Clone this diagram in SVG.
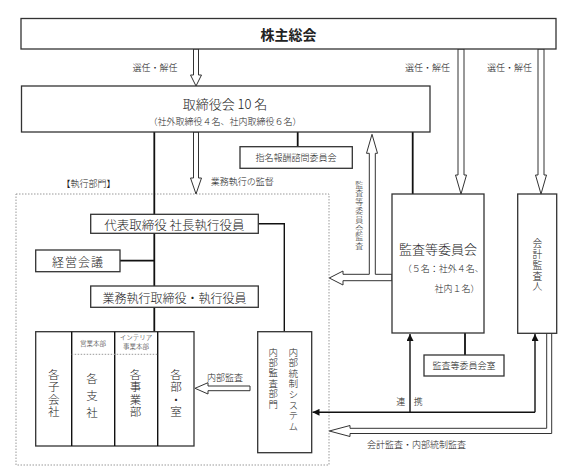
<svg xmlns="http://www.w3.org/2000/svg" width="563" height="472" viewBox="0 0 563 472">
<style>
text { font-family: "Noto Sans CJK JP", "Noto Sans", sans-serif; fill: #222; font-weight: 300; }
.box { fill: #fff; stroke: #333; stroke-width: 1.3; }
.ln { stroke: #111; stroke-width: 1.8; fill: none; }
.thin { stroke: #111; stroke-width: 1.4; fill: none; }
.hol { fill: #fff; stroke: #333; stroke-width: 1; }
.dot { fill: none; stroke: #999; stroke-width: 1; stroke-dasharray: 1.5 1.5; }
.c { text-anchor: middle; dominant-baseline: central; }
.l { text-anchor: start; dominant-baseline: central; }
.r { text-anchor: end; dominant-baseline: central; }
.v { writing-mode: vertical-rl; text-anchor: start; }
.b { font-weight: bold; font-size: 14px; }
.s7 { font-size: 6.5px; }
.s9 { font-size: 9px; }
.s12 { font-size: 12px; }
.s13 { font-size: 13px; }
</style>
<defs>
<marker id="ah" viewBox="0 0 10 10" refX="10" refY="5" markerUnits="userSpaceOnUse" markerWidth="7" markerHeight="7" orient="auto">
<path d="M0,0 L10,5 L0,10 z" fill="#111"/>
</marker>
</defs>

<!-- dotted execution area -->
<rect class="dot" x="16" y="194" width="313" height="271"/>
<text class="c s9" x="88.5" y="183">【執行部門】</text>

<g id="connectors">
<path class="ln" d="M154.3,132 V332"/>
<path class="ln" d="M120,260.7 H154.3"/>
<path class="thin" d="M258.3,223.8 H284.3 V331.7"/>
<path class="ln" d="M297.7,132 V146.7"/>
<path class="ln" d="M412.7,132 V194"/>
<path class="ln" d="M465,333 V355"/>
<path class="thin" d="M535,412.3 H312.5" marker-end="url(#ah)"/>
<path class="thin" d="M535,412.3 V334" marker-end="url(#ah)"/>
<path class="thin" d="M410,412.3 V334" marker-end="url(#ah)"/>
<path class="hol" d="M193.5,49 V75 H190.5 L196,86 L201.5,75 H198.5 V49 z"/>
<path class="hol" d="M193.5,132 V178 H190.5 L196,194 L201.5,178 H198.5 V132 z"/>
<path class="hol" d="M458,49 V175 H455.5 L461,194 L466.5,175 H464 V49 z"/>
<path class="hol" d="M538,49 V175 H535.5 L541,194 L546.5,175 H544 V49 z"/>
<path class="hol" d="M392,280.7 H343 V285 L329.3,278 L343,271 V274.3 H369.3 V153.3 H366.5 L372,134.3 L377.5,153.3 H375.3 V274.3 H392 z"/>
<path class="hol" d="M250,386 H208 V382.7 L195,388.3 L208,394 V390.7 H250 z"/>
<path class="hol" d="M546.7,333 V428.3 H350 V425.5 L329.3,431 L350,436.5 V433.5 H551.7 V333 z"/>
<text class="c s9" x="155" y="67">選任・解任</text>
<text class="c s9" x="427.5" y="67">選任・解任</text>
<text class="c s9" x="509.5" y="67">選任・解任</text>
<text class="l s9" x="210.7" y="181">業務執行の監督</text>
<text class="v" x="359.3" y="180.5" font-size="8" letter-spacing="0.8">監査等委員会監査</text>
<text class="c s9" x="225" y="377">内部監査</text>
<text class="c s9" x="400.7" y="401.7">連</text>
<text class="c s9" x="418.3" y="401.7">携</text>
<text class="l s9" x="367" y="444">会計監査・内部統制監査</text>
</g>

<g id="shareholders">
<rect class="box" x="21" y="18.5" width="535" height="30.5"/>
<text class="c b" x="288.5" y="34">株主総会</text>
</g>

<g id="board">
<rect class="box" x="21.5" y="86" width="408.5" height="46"/>
<text class="c s13" x="225" y="103">取締役会 10 名</text>
<text class="c s9" x="225" y="121.5">（社外取締役４名、社内取締役６名）</text>
</g>

<g id="nomination">
<rect class="box" x="240" y="146.7" width="112.3" height="21.6"/>
<text class="c s9" x="296" y="157.5">指名報酬諮問委員会</text>
</g>

<g id="president">
<rect class="box" x="90.7" y="214.3" width="167.6" height="19"/>
<text class="c" x="174.5" y="224" font-size="12.5">代表取締役 社長執行役員</text>
</g>

<g id="management-meeting">
<rect class="box" x="35.7" y="250" width="84.3" height="21.7"/>
<text class="c s12" x="78" y="261" letter-spacing="1">経営会議</text>
</g>

<g id="executives">
<rect class="box" x="90.7" y="286" width="167.6" height="21.3"/>
<text class="c s12" x="174.5" y="297">業務執行取締役・執行役員</text>
</g>

<g id="units">
<rect class="box" x="35.7" y="331.7" width="158.3" height="114.3"/>
<path class="thin" d="M71.7,331.7 V446 M114.7,331.7 V446 M157.7,331.7 V446"/>
<path class="dot" d="M71.7,354.3 H157.7"/>
<text class="c s7" x="93" y="343.3">営業本部</text>
<text class="c s7" x="136" y="337">インテリア</text>
<text class="c s7" x="136" y="346">事業本部</text>
<text class="v" x="53.7" y="368.5" font-size="11.5" letter-spacing="1.1">各子会社</text>
<text class="v" x="92" y="372.5" font-size="11.5" letter-spacing="5.5">各支社</text>
<text class="v" x="135.5" y="368.5" font-size="11.5" letter-spacing="1.1">各事業部</text>
<text class="v" x="176" y="368.5" font-size="11.5" letter-spacing="1.1">各部・室</text>
</g>

<g id="internal-audit">
<rect class="box" x="257.7" y="331.7" width="54" height="121"/>
<text class="v" x="293.3" y="347.2" font-size="9.6" letter-spacing="1">内部統制システム</text>
<text class="v" x="273.3" y="347.3" font-size="9.4" letter-spacing="1">内部監査部門</text>
</g>

<g id="audit-committee">
<rect class="box" x="392" y="194" width="92" height="139"/>
<text class="c s13" x="438" y="248">監査等委員会</text>
<text class="l s9" x="402.7" y="268.5">（５名：社外４名、</text>
<text class="r s9" x="479.5" y="288">社内１名）</text>
</g>

<g id="audit-committee-office">
<rect class="box" x="424" y="355" width="80" height="21"/>
<text class="c s9" x="464" y="365.5">監査等委員会室</text>
</g>

<g id="accounting-auditor">
<rect class="box" x="517.7" y="194" width="39" height="139.3"/>
<text class="v" x="537.5" y="238.6" font-size="9.8" letter-spacing="1">会計監査人</text>
</g>
</svg>
